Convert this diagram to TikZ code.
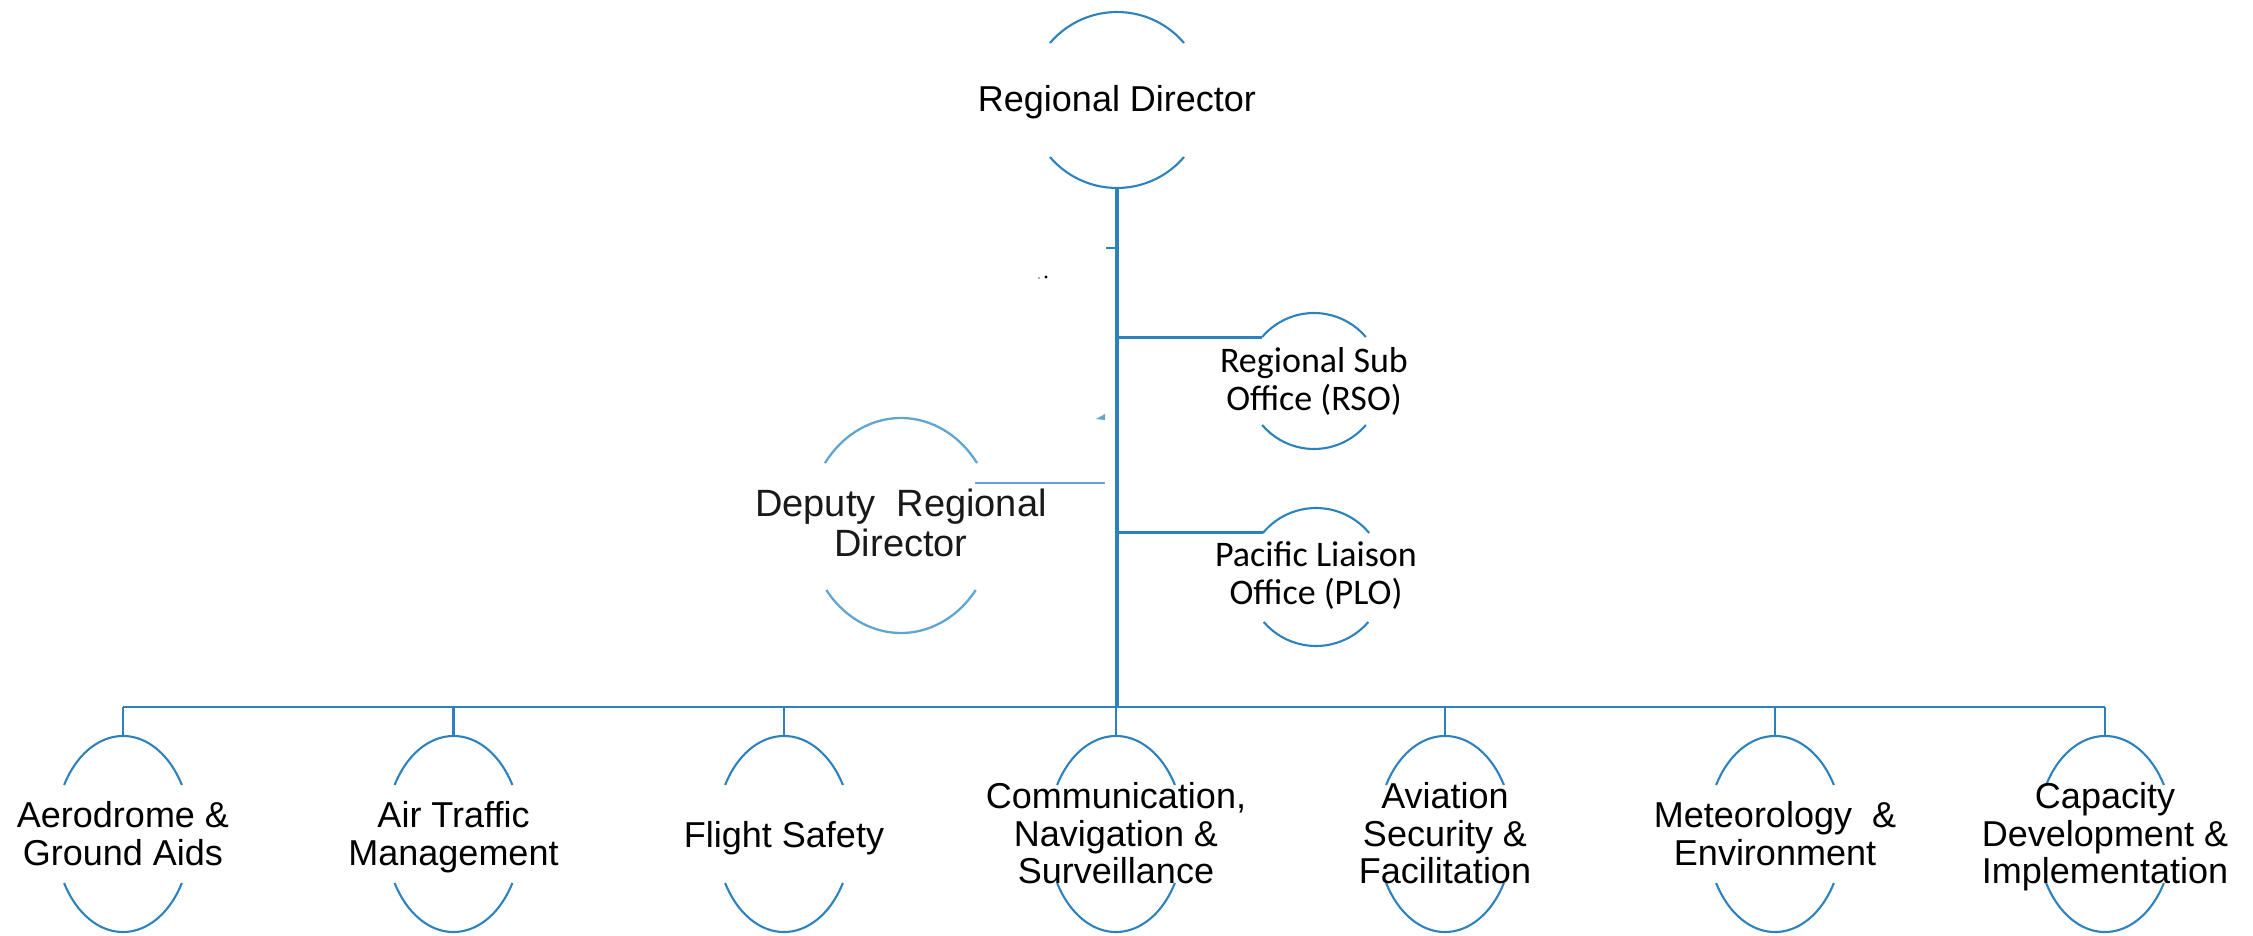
\documentclass[tikz,border=0pt]{standalone}
\usepackage{fontspec}
\setmainfont{Liberation Sans}
\newfontfamily\calfont{Carlito}
\usetikzlibrary{shapes.geometric}
\definecolor{lineblue}{RGB}{44,130,189}
\definecolor{paleblue}{RGB}{96,166,208}
\begin{document}
\begin{tikzpicture}[x=0.5pt,y=-0.5pt,
  shapenode/.style={draw=none,inner sep=0pt,outer sep=0pt},
  arcst/.style={draw=lineblue,line width=1.05pt},
  palearc/.style={draw=paleblue,line width=1.15pt},
  trunkline/.style={draw=lineblue,line width=1.7pt},
  branchline/.style={draw=lineblue,line width=1.25pt},
  busline/.style={draw=lineblue,line width=1.3pt},
  dropline/.style={draw=lineblue,line width=1.05pt},
  btxt/.style={font=\fontsize{18}{18.8}\selectfont,align=center,inner sep=0pt,anchor=north},
  ctxt/.style={font=\calfont\fontsize{18}{19}\selectfont,align=center,inner sep=0pt,anchor=north},
  dtxt/.style={font=\fontsize{19}{20}\selectfont,align=center,inner sep=0pt,anchor=north,text=black!90},
  bell/.style={shapenode,ellipse,minimum width=68pt,minimum height=98pt}
]
\useasboundingbox (0,0) rectangle (2253,936);

% ---------- Regional Director ----------
\node[shapenode,circle,minimum size=88pt] (rd) at (1117,100) {};
\node[font=\fontsize{18}{20}\selectfont,inner sep=0pt,anchor=base] (rdt) at (1117,112) {Regional Director};
\draw[arcst] ([shift={(220.4:88)}]rd.center) arc[start angle=220.4,end angle=319.6,radius=88];
\draw[arcst] ([shift={(40.4:88)}]rd.center) arc[start angle=40.4,end angle=139.6,radius=88];

% ---------- Regional Sub Office ----------
\node[shapenode,circle,minimum size=68pt] (rso) at (1314,381) {};
\node[ctxt] (rsot) at (1314,347) {Regional Sub\\Office (RSO)};
\draw[arcst] ([shift={(220.3:68)}]rso.center) arc[start angle=220.3,end angle=319.7,radius=68];
\draw[arcst] ([shift={(40.3:68)}]rso.center) arc[start angle=40.3,end angle=139.7,radius=68];

% ---------- Pacific Liaison Office ----------
\node[shapenode,circle,minimum size=69pt] (plo) at (1316,577) {};
\node[ctxt] (plot) at (1316,541) {Pacific Liaison\\Office (PLO)};
\draw[arcst] ([shift={(219.6:69)}]plo.center) arc[start angle=219.6,end angle=320.4,radius=69];
\draw[arcst] ([shift={(40.7:69)}]plo.center) arc[start angle=40.7,end angle=139.3,radius=69];

% ---------- Deputy Regional Director ----------
\node[shapenode,ellipse,minimum width=93.4pt,minimum height=107.5pt] (dep) at (901,525.5) {};
\node[dtxt] (dept) at (901,489) {Deputy\ \ Regional\\Director};
\draw[palearc] ([shift={(215.5:93.4 and 107.5)}]dep.center) arc[start angle=215.5,end angle=324.5,x radius=93.4,y radius=107.5];
\draw[palearc] ([shift={(36.9:93.4 and 107.5)}]dep.center) arc[start angle=36.9,end angle=143.1,x radius=93.4,y radius=107.5];
\coordinate (depR) at (975,483);
\coordinate (depT) at (1105,483);

% ---------- bottom row ----------
\coordinate (bus) at (1117,707);
\node[bell] (b1) at (123,834) {};
\node[bell] (b2) at (453.5,834) {};
\node[bell] (b3) at (784,834) {};
\node[bell] (b4) at (1116,834) {};
\node[bell] (b5) at (1445,834) {};
\node[bell] (b6) at (1775,834) {};
\node[bell] (b7) at (2105,834) {};
\foreach \n in {b1,b2,b3,b4,b5,b6,b7}{
  \draw[arcst] ([shift={(210:68 and 98)}]\n.center) arc[start angle=210,end angle=330,x radius=68,y radius=98];
  \draw[arcst] ([shift={(30:68 and 98)}]\n.center) arc[start angle=30,end angle=150,x radius=68,y radius=98];
}
\node[btxt] (b1t) at (123,801) {Aerodrome \&\\Ground Aids};
\node[btxt] (b2t) at (453.5,801) {Air Traffic\\Management};
\node[btxt] (b3t) at (784,821) {Flight Safety};
\node[btxt] (b4t) at (1116,782) {Communication,\\Navigation \&\\Surveillance};
\node[btxt] (b5t) at (1445,782) {Aviation\\Security \&\\Facilitation};
\node[btxt] (b6t) at (1775,801) {Meteorology\ \ \&\\Environment};
\node[btxt] (b7t) at (2105,782) {Capacity\\Development \&\\Implementation};

% ---------- connectors ----------
\draw[trunkline] (rd.south) -- (bus);
\draw[branchline] (rd.south |- rso.140) -- (rso.140);
\draw[branchline] (rd.south |- plo.140) -- (plo.140);
\draw[draw=paleblue,line width=1.2pt] (depR) -- (depT);
\draw[busline] (b1.north |- bus) -- (b7.north |- bus);
\foreach \n in {b1,b2,b3,b4,b5,b6,b7}{
  \draw[dropline] (\n.north |- bus) -- (\n.north);
}

% ---------- small marks ----------
\draw[draw=lineblue,line width=1pt] (1106,248) -- (1117,248);
\fill[paleblue] (1096,419) -- (1105,414) -- (1105,420) -- cycle;
\fill[black] (1046,277) circle[radius=1.6];
\fill[black!60] (1039,278) circle[radius=0.9];
\end{tikzpicture}
\end{document}
